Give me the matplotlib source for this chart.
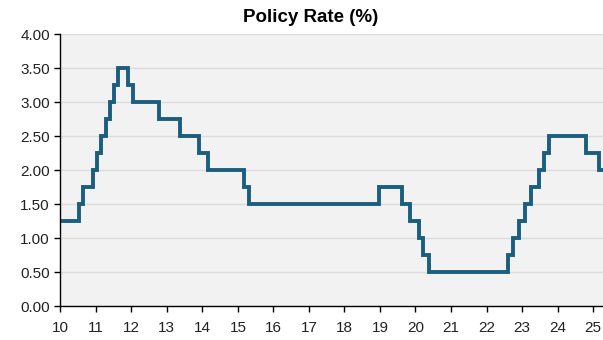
import matplotlib
matplotlib.use("Agg")
import matplotlib.pyplot as plt
import numpy as np

# change dates (years since 2000) and the policy rate set at each date
dates = [10.0, 10.52, 10.64, 10.92, 11.03, 11.16, 11.30, 11.39, 11.52, 11.63,
         11.91, 12.06, 12.77, 13.38, 13.91, 14.16, 15.18, 15.31, 18.98, 19.61,
         19.86, 20.11, 20.20, 20.39, 22.61, 22.75, 22.92, 23.07, 23.25, 23.47,
         23.63, 23.75, 24.80, 25.17, 25.3]
rates = [1.25, 1.5, 1.75, 2.0, 2.25, 2.5, 2.75, 3.0, 3.25, 3.5,
         3.25, 3.0, 2.75, 2.5, 2.25, 2.0, 1.75, 1.5, 1.75, 1.5,
         1.25, 1.0, 0.75, 0.5, 0.75, 1.0, 1.25, 1.5, 1.75, 2.0,
         2.25, 2.5, 2.25, 2.0, 2.0]
x_ticks = list(range(10, 26))
y_ticks = np.arange(0, 4.01, 0.5)

plt.rcParams['font.family'] = ['Liberation Sans', 'DejaVu Sans']

fig = plt.figure(figsize=(6.03, 3.40), dpi=100)
ax = fig.add_axes([0.1, 0.1, 0.9, 0.8])
ax.set_facecolor('#f2f2f2')

ax.step(dates, rates, where='post', color='#1b5e7f', lw=2.8,
        solid_joinstyle='miter')

ax.set_xlim(10, 25.28)
ax.set_ylim(0, 4)
ax.set_xticks(x_ticks)
ax.set_yticks(y_ticks)
ax.set_yticklabels(['%.2f' % v for v in y_ticks])
ax.grid(axis='y', color='#dcdcdc', lw=1)
ax.set_axisbelow(True)

for s in ['top', 'right']:
    ax.spines[s].set_visible(False)
for s in ['left', 'bottom']:
    ax.spines[s].set_color('black')
    ax.spines[s].set_linewidth(1)
ax.tick_params(direction='out', length=4, width=1, colors='black',
               labelsize=11, labelcolor='#222222')
ax.tick_params(axis='x', pad=7)

fig.text(311 / 603, 1 - 18 / 340, 'Policy Rate (%)', fontsize=13.5,
         fontweight='bold', ha='center', va='center')

fig.savefig('out.png', dpi=100)
